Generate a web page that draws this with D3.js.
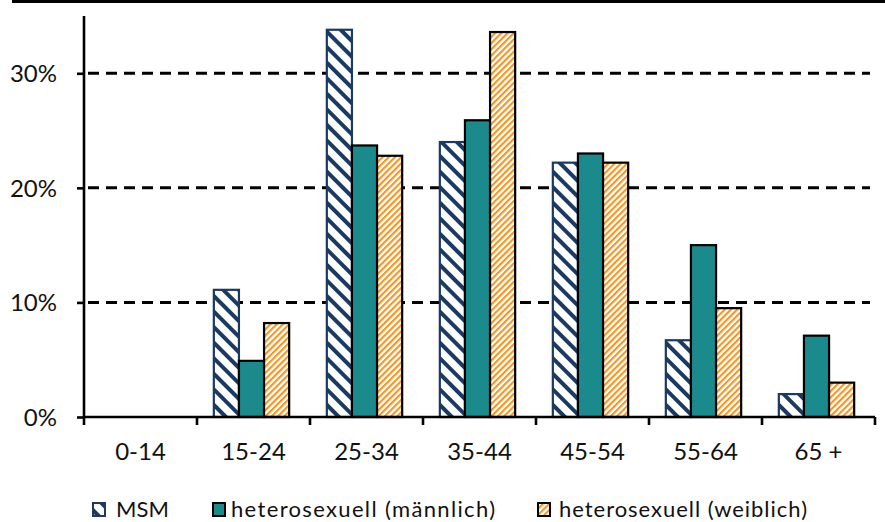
<!DOCTYPE html>
<html>
<head>
<meta charset="utf-8">
<script src="https://cdn.jsdelivr.net/npm/d3@7"></script>
<style>
  html, body { margin: 0; padding: 0; background: #fff; }
  svg { display: block; font-family: Lato, "Open Sans", sans-serif; }
</style>
</head>
<body>
<svg id="chart" width="885" height="522"></svg>
<script>
// Age groups and share of new diagnoses (%) per transmission group
const ageGroups = ["0-14", "15-24", "25-34", "35-44", "45-54", "55-64", "65 +"];
const seriesNames = ["MSM", "heterosexuell (männlich)", "heterosexuell (weiblich)"];
const msm = [0, 11.1, 33.8, 24.0, 22.2, 6.7, 2.0];
const heteroMale = [0, 4.9, 23.7, 25.9, 23.0, 15.0, 7.1];
const heteroFemale = [0, 8.2, 22.8, 33.6, 22.2, 9.5, 3.0];
const yTicks = [0, 10, 20, 30];

const seriesValues = [msm, heteroMale, heteroFemale];
const svg = d3.select("#chart");

const navy = "#1a3a63", teal = "#1b8a8c", orange = "#f7941d";

// Hatch patterns
const defs = svg.append("defs");
function stripes(id, size, stripeW, color, angle) {
  const p = defs.append("pattern")
    .attr("id", id).attr("patternUnits", "userSpaceOnUse")
    .attr("width", size).attr("height", size)
    .attr("patternTransform", `rotate(${angle})`);
  p.append("rect").attr("width", size).attr("height", size).attr("fill", "#fff");
  p.append("rect").attr("width", stripeW).attr("height", size).attr("fill", color);
}
stripes("hatchNavy", 11, 4, navy, -45);
stripes("hatchOrange", 4.4, 2.1, orange, 45);

const fills = ["url(#hatchNavy)", teal, "url(#hatchOrange)"];
const strokes = [navy, "#000", "#000"];

// Top rule
svg.append("rect").attr("x", 12).attr("y", 0).attr("width", 873).attr("height", 3).attr("fill", "#000");

const x0 = d3.scaleBand().domain(ageGroups).range([84, 875]).paddingInner(0).paddingOuter(0);
const x1 = d3.scaleBand().domain(d3.range(3)).range([0, x0.bandwidth()]).paddingInner(0).paddingOuter(0.75);
const y = d3.scaleLinear().domain([0, 35]).range([417, 16]);

// Dashed gridlines
svg.append("g").selectAll("line")
  .data(yTicks.filter(d => d > 0))
  .join("line")
  .attr("x1", 84).attr("x2", 870)
  .attr("y1", d => y(d)).attr("y2", d => y(d))
  .attr("stroke", "#000").attr("stroke-width", 3)
  .attr("stroke-dasharray", "11,7").attr("stroke-dashoffset", -4);

// Bars
const rows = ageGroups.map((g, i) => ({ g, vals: seriesValues.map(s => s[i]) }));
const groups = svg.append("g").selectAll("g")
  .data(rows).join("g")
  .attr("transform", d => `translate(${x0(d.g) - 2},0)`);
groups.selectAll("rect")
  .data(d => d.vals.map((v, k) => ({ v, k })).filter(e => e.v > 0))
  .join("rect")
  .attr("x", e => x1(e.k))
  .attr("y", e => y(e.v))
  .attr("width", x1.bandwidth())
  .attr("height", e => y(0) - y(e.v))
  .attr("fill", e => fills[e.k])
  .attr("stroke", e => strokes[e.k])
  .attr("stroke-width", 2.2);

// Y axis
const yAxis = svg.append("g").attr("transform", "translate(84,0)")
  .call(d3.axisLeft(y).tickValues(yTicks).tickFormat(d => d + "%").tickSize(7).tickPadding(20));
yAxis.select(".domain").attr("d", `M0,${y(0)}V16`).attr("stroke-width", 2.6);
yAxis.selectAll(".tick line").attr("stroke-width", 2.6);
yAxis.selectAll(".tick text").attr("font-size", 24).attr("fill", "#111")
  .attr("font-family", "Lato, sans-serif").attr("dy", "0.35em");

// X axis
const xAxis = svg.append("g").attr("transform", `translate(0,${y(0)})`)
  .call(d3.axisBottom(x0).tickSize(0).tickPadding(26));
xAxis.select(".domain").attr("d", "M84,0H875").attr("stroke-width", 2.6);
xAxis.selectAll(".tick text").attr("font-size", 24).attr("fill", "#111")
  .attr("font-family", "Lato, sans-serif");
// band-boundary tick marks
svg.append("g").selectAll("line")
  .data(ageGroups.map(g => x0(g)).concat([875]))
  .join("line")
  .attr("x1", d => d).attr("x2", d => d)
  .attr("y1", y(0)).attr("y2", y(0) + 8)
  .attr("stroke", "#000").attr("stroke-width", 2.6);

// Legend
const legendItems = [
  { box: 93, text: 116, len: 53 },
  { box: 213, text: 231, len: 264 },
  { box: 538, text: 559, len: 248 }
];
const legend = svg.append("g").selectAll("g")
  .data(legendItems).join("g");
legend.append("rect")
  .attr("x", d => d.box).attr("y", 503).attr("width", 12).attr("height", 13)
  .attr("fill", (d, i) => fills[i]).attr("stroke", (d, i) => strokes[i]).attr("stroke-width", 2);
legend.append("text")
  .attr("x", d => d.text).attr("y", 517)
  .attr("font-size", 22).attr("fill", "#111")
  .attr("textLength", d => d.len).attr("lengthAdjust", "spacing")
  .text((d, i) => seriesNames[i]);
</script>
</body>
</html>
